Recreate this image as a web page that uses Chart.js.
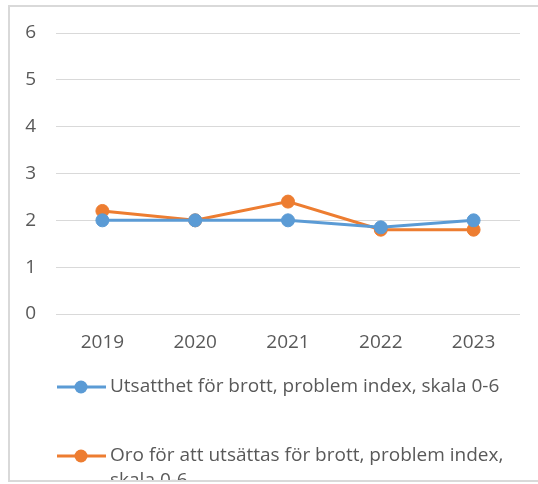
<!DOCTYPE html>
<html>
<head>
<meta charset="utf-8">
<script src="https://cdn.jsdelivr.net/npm/chart.js@4/dist/chart.umd.min.js"></script>
<style>
  html, body { margin: 0; padding: 0; background: #fff; }
  #wrap {
    position: absolute; left: 8px; top: 5px; width: 530px; height: 473px;
    border: 2px solid #d9d9d9; border-right: none; overflow: hidden;
  }
  #c { position: absolute; left: -10px; top: -7px; }
</style>
</head>
<body>
<div id="wrap"><canvas id="c" width="538" height="484" style="width:538px;height:484px"></canvas></div>
<script>
// data
var years = ['2019', '2020', '2021', '2022', '2023'];
var utsatthet = [2.0, 2.0, 2.0, 1.85, 2.0];
var oro = [2.2, 2.0, 2.4, 1.8, 1.8];
var seriesNames = [
  'Utsatthet för brott, problem index, skala 0-6',
  'Oro för att utsättas för brott, problem index, skala 0-6'
];
var yTicks = [0, 1, 2, 3, 4, 5, 6];

var FONT = '"Open Sans", sans-serif';
var TXT = '#595959';

// Excel-like legend below the plot, with word wrap
var excelLegend = {
  id: 'excelLegend',
  afterDraw: function (chart) {
    var ctx = chart.ctx;
    var rows = [387, 456];
    ctx.save();
    ctx.font = '19px ' + FONT;
    ctx.textBaseline = 'middle';
    ctx.textAlign = 'left';
    chart.data.datasets.forEach(function (ds, i) {
      var y = rows[i];
      ctx.strokeStyle = ds.borderColor;
      ctx.lineWidth = 3;
      ctx.beginPath();
      ctx.moveTo(57, y);
      ctx.lineTo(106, y);
      ctx.stroke();
      ctx.fillStyle = ds.borderColor;
      ctx.beginPath();
      ctx.arc(81, y, 6.5, 0, Math.PI * 2);
      ctx.fill();
      // wrap
      var words = ds.label.split(' ');
      var line = '', lines = [];
      words.forEach(function (w) {
        var test = line ? line + ' ' + w : w;
        if (ctx.measureText(test).width > 405 && line) {
          lines.push(line);
          line = w;
        } else {
          line = test;
        }
      });
      lines.push(line);
      ctx.fillStyle = TXT;
      lines.forEach(function (l, k) {
        ctx.fillText(l, 110, y + k * 25);
      });
    });
    ctx.restore();
  }
};

new Chart(document.getElementById('c'), {
  type: 'line',
  data: {
    labels: years,
    datasets: [{
      label: seriesNames[0],
      data: utsatthet,
      borderColor: '#5B9BD5',
      backgroundColor: '#5B9BD5',
      pointBackgroundColor: '#5B9BD5',
      pointBorderColor: '#5B9BD5',
      borderWidth: 3,
      pointRadius: 6.5,
      pointBorderWidth: 1,
      tension: 0
    }, {
      label: seriesNames[1],
      data: oro,
      borderColor: '#ED7D31',
      backgroundColor: '#ED7D31',
      pointBackgroundColor: '#ED7D31',
      pointBorderColor: '#ED7D31',
      borderWidth: 3,
      pointRadius: 6.5,
      pointBorderWidth: 1,
      tension: 0
    }]
  },
  options: {
    responsive: false,
    animation: false,
    devicePixelRatio: 1,
    events: [],
    layout: { padding: { top: 33, left: 0, right: 18, bottom: 125 } },
    plugins: {
      legend: { display: false },
      tooltip: { enabled: false },
      title: { display: false }
    },
    scales: {
      x: {
        offset: true,
        grid: { display: false, drawTicks: false },
        border: { display: false },
        ticks: { color: TXT, font: { family: FONT, size: 19 }, padding: 17 },
        afterFit: function (s) { s.height = 45; }
      },
      y: {
        min: 0,
        max: 6,
        afterBuildTicks: function (s) {
          s.ticks = yTicks.map(function (v) { return { value: v }; });
        },
        grid: { color: '#d9d9d9', lineWidth: 1, drawTicks: false },
        border: { display: false },
        ticks: { color: TXT, font: { family: FONT, size: 19 }, padding: 20 },
        afterFit: function (s) { s.width = 56; }
      }
    }
  },
  plugins: [excelLegend]
});
</script>
</body>
</html>
